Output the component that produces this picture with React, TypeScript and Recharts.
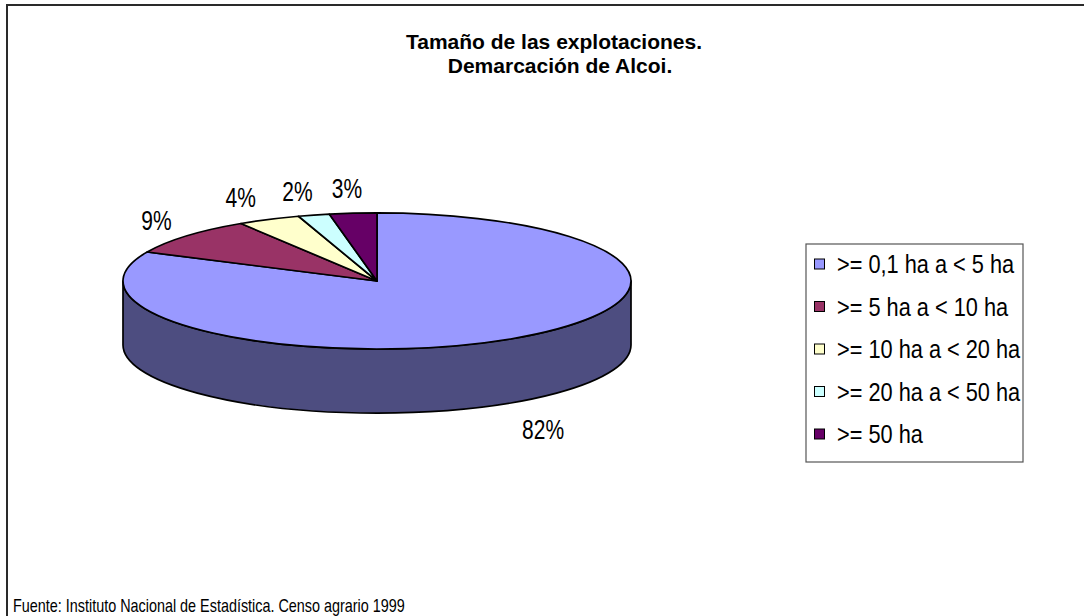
import React from 'react';
import { PieChart, Pie, Cell, Legend } from 'recharts';

const categories = [
  '>= 0,1 ha a < 5 ha',
  '>= 5 ha a < 10 ha',
  '>= 10 ha a < 20 ha',
  '>= 20 ha a < 50 ha',
  '>= 50 ha',
];
const shares = [82, 9, 4, 2, 3];
const colors = ['#9999FF', '#993366', '#FFFFCC', '#CCFFFF', '#660066'];

const titleLines = ['Tamaño de las explotaciones.', 'Demarcación de Alcoi.'];
const sourceText = 'Fuente: Instituto Nacional de Estadística. Censo agrario 1999';

const data = categories.map((name, i) => ({ name, value: shares[i] }));

const FONT = "'Liberation Sans', Arial, sans-serif";
const TILT = 0.268; // vertical squash of the disc
const DEPTH = 64; // height of the side wall
const RAD = Math.PI / 180;

const pt = (cx: number, cy: number, rx: number, ry: number, a: number, dy = 0) =>
  `${cx + rx * Math.cos(a * RAD)},${cy - ry * Math.sin(a * RAD) + dy}`;

const darken = (hex: string, k: number) => {
  const n = parseInt(hex.slice(1), 16);
  const c = [(n >> 16) & 255, (n >> 8) & 255, n & 255].map((v) => Math.round(v * k));
  return `rgb(${c.join(',')})`;
};

const Slice3D = (props: any) => {
  const { cx, cy, outerRadius, startAngle, endAngle, fill } = props;
  const rx = outerRadius;
  const ry = outerRadius * TILT;
  const lo = Math.min(startAngle, endAngle);
  const hi = Math.max(startAngle, endAngle);

  // front-facing wall pieces (lower half of the ellipse)
  const walls: string[] = [];
  for (let k = -2; k <= 1; k++) {
    const a = Math.max(lo, -180 + 360 * k);
    const b = Math.min(hi, 360 * k);
    if (b > a) {
      walls.push(
        `M${pt(cx, cy, rx, ry, b)} A${rx},${ry} 0 0 1 ${pt(cx, cy, rx, ry, a)} ` +
          `L${pt(cx, cy, rx, ry, a, DEPTH)} A${rx},${ry} 0 0 0 ${pt(cx, cy, rx, ry, b, DEPTH)} Z`
      );
    }
  }

  const large = hi - lo > 180 ? 1 : 0;
  const sweep = startAngle > endAngle ? 1 : 0;
  const top =
    `M${cx},${cy} L${pt(cx, cy, rx, ry, startAngle)} ` +
    `A${rx},${ry} 0 ${large} ${sweep} ${pt(cx, cy, rx, ry, endAngle)} Z`;

  return (
    <g>
      {walls.map((d, i) => (
        <path key={i} d={d} fill={darken(fill, 0.5)} stroke="#000" strokeWidth={1.7} strokeLinejoin="round" />
      ))}
      <path d={top} fill={fill} stroke="#000" strokeWidth={1.7} strokeLinejoin="round" />
    </g>
  );
};

const renderLabel = (props: any) => {
  const { cx, cy, outerRadius, midAngle, percent } = props;
  const rx = outerRadius;
  const ry = outerRadius * TILT;
  const c = Math.cos(midAngle * RAD);
  const s = Math.sin(midAngle * RAD);
  const px = cx + rx * c;
  const py = cy - ry * s + (s < 0 ? DEPTH + 4 : 0);
  const x = px + Math.max(-30, Math.min(30, c * 66));
  const y = py - s * 26 + 11;
  return (
    <text
      transform={`translate(${x},${y}) scale(0.75,1)`}
      textAnchor="middle"
      fontFamily={FONT}
      fontSize={28}
      fill="#000"
    >
      {`${Math.round(percent * 100)}%`}
    </text>
  );
};

const LegendBox = () => (
  <svg width={220} height={221} style={{ display: 'block' }}>
    <rect x={1} y={1} width={217} height={218} fill="#fff" stroke="#555" strokeWidth={1.2} />
    {categories.map((name, i) => (
      <g key={name}>
        <rect x={9.5} y={16} width={10} height={10} transform={`translate(0,${i * 42.5})`} fill={colors[i]} stroke="#000" strokeWidth={1} />
        <text
          transform={`translate(32,${30 + i * 42.5}) scale(0.87,1)`}
          fontFamily={FONT}
          fontSize={25}
          fill="#000"
        >
          {name}
        </text>
      </g>
    ))}
  </svg>
);

export default function App() {
  return (
    <div
      style={{
        position: 'absolute',
        left: 0,
        top: 0,
        width: 1084,
        height: 616,
        background: '#fff',
        overflow: 'hidden',
      }}
    >
      <svg width={1084} height={616} style={{ position: 'absolute', left: 0, top: 0 }}>
        <path d="M7,620 L7,5 L1090,5" fill="none" stroke="#2a2a2a" strokeWidth={2} />
      </svg>
      <div style={{ position: 'absolute', left: 0, top: 0 }}>
        <PieChart width={1084} height={616} margin={{ top: 0, right: 0, bottom: 0, left: 0 }}>
          <Pie
            data={data}
            dataKey="value"
            nameKey="name"
            cx={377}
            cy={281}
            outerRadius={254}
            startAngle={90}
            endAngle={-270}
            stroke="#000"
            shape={Slice3D}
            inactiveShape={Slice3D}
            activeShape={Slice3D}
            label={renderLabel}
            labelLine={false}
            isAnimationActive={false}
          >
            {data.map((d, i) => (
              <Cell key={d.name} fill={colors[i]} />
            ))}
          </Pie>
          <Legend
            layout="vertical"
            align="right"
            verticalAlign="top"
            content={<LegendBox />}
            wrapperStyle={{ left: 805, top: 243, width: 220, height: 221 }}
          />
        </PieChart>
      </div>
      <svg
        width={1084}
        height={616}
        style={{ position: 'absolute', left: 0, top: 0, pointerEvents: 'none' }}
      >
        <text x={554} y={49} textAnchor="middle" fontFamily={FONT} fontWeight="bold" fontSize={21} fill="#000">
          {titleLines[0]}
        </text>
        <text x={560} y={73} textAnchor="middle" fontFamily={FONT} fontWeight="bold" fontSize={21} fill="#000">
          {titleLines[1]}
        </text>
        <text transform="translate(13,612) scale(0.8,1)" fontFamily={FONT} fontSize={18} fill="#000">
          {sourceText}
        </text>
      </svg>
    </div>
  );
}
